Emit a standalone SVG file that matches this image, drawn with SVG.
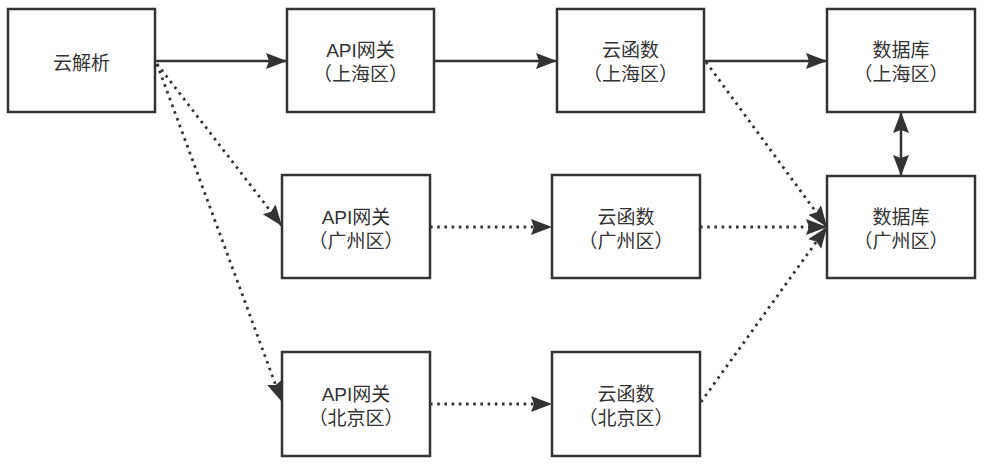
<svg xmlns="http://www.w3.org/2000/svg" width="984" height="467" viewBox="0 0 984 467">
<defs>
<marker id="arr" markerUnits="userSpaceOnUse" markerWidth="24" markerHeight="18" refX="21" refY="8" orient="auto-start-reverse" viewBox="0 0 24 18">
<path d="M0,0 L21,8 L0,16 L3,8 Z" fill="#333"/>
</marker>
</defs>
<style>
.box{fill:#fff;stroke:#333;stroke-width:2.5}
.t{font-family:"Liberation Sans","Noto Sans CJK SC",sans-serif;font-size:19px;fill:#333;text-anchor:middle}
.solid{fill:none;stroke:#333;stroke-width:2.5}
.dot{fill:none;stroke:#333;stroke-width:2.8;stroke-dasharray:2.6 4.6}
</style>
<g id="connectors">
<line class="solid" x1="155" y1="61" x2="287" y2="61" marker-end="url(#arr)"/>
<line class="solid" x1="434" y1="61" x2="557" y2="61" marker-end="url(#arr)"/>
<line class="solid" x1="704" y1="61" x2="827" y2="61" marker-end="url(#arr)"/>
<line class="solid" x1="901" y1="112" x2="901" y2="176" marker-start="url(#arr)" marker-end="url(#arr)"/>
<line class="dot" x1="157" y1="64" x2="282" y2="226" marker-end="url(#arr)"/>
<line class="dot" x1="157" y1="64" x2="282" y2="402" marker-end="url(#arr)"/>
<line class="dot" x1="430" y1="227" x2="552" y2="227" marker-end="url(#arr)"/>
<line class="dot" x1="430" y1="404" x2="552" y2="404" marker-end="url(#arr)"/>
<line class="dot" x1="706" y1="62" x2="827" y2="227" marker-end="url(#arr)"/>
<line class="dot" x1="700" y1="227" x2="827" y2="227" marker-end="url(#arr)"/>
<line class="dot" x1="701" y1="402" x2="827" y2="227" marker-end="url(#arr)"/>
</g>
<g id="dns">
<rect class="box" x="8" y="9" width="147" height="103"/>
<text class="t" x="81.5" y="69.5">云解析</text>
</g>
<g id="api-sh">
<rect class="box" x="287" y="9" width="147" height="103"/>
<text class="t" x="360.5" y="57">API网关</text>
<text class="t" x="360.5" y="81">（上海区）</text>
</g>
<g id="fn-sh">
<rect class="box" x="557" y="9" width="147" height="103"/>
<text class="t" x="630.5" y="57">云函数</text>
<text class="t" x="630.5" y="81">（上海区）</text>
</g>
<g id="db-sh">
<rect class="box" x="827" y="9" width="148" height="103"/>
<text class="t" x="901" y="57">数据库</text>
<text class="t" x="901" y="81">（上海区）</text>
</g>
<g id="api-gz">
<rect class="box" x="282" y="175" width="148" height="103"/>
<text class="t" x="356" y="223.5">API网关</text>
<text class="t" x="356" y="247.5">（广州区）</text>
</g>
<g id="fn-gz">
<rect class="box" x="552" y="175" width="148" height="103"/>
<text class="t" x="626" y="223.5">云函数</text>
<text class="t" x="626" y="247.5">（广州区）</text>
</g>
<g id="db-gz">
<rect class="box" x="827" y="176" width="148" height="102"/>
<text class="t" x="901" y="223.5">数据库</text>
<text class="t" x="901" y="247.5">（广州区）</text>
</g>
<g id="api-bj">
<rect class="box" x="282" y="352" width="148" height="104"/>
<text class="t" x="356" y="400.5">API网关</text>
<text class="t" x="356" y="424.5">（北京区）</text>
</g>
<g id="fn-bj">
<rect class="box" x="552" y="352" width="148" height="104"/>
<text class="t" x="626" y="400.5">云函数</text>
<text class="t" x="626" y="424.5">（北京区）</text>
</g>
</svg>
